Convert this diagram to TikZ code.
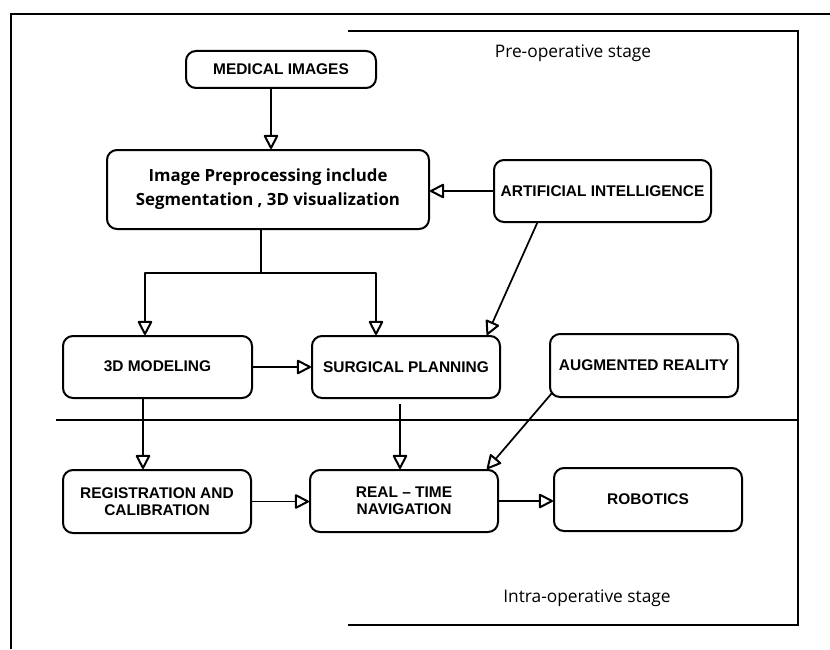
\documentclass[tikz,border=0pt]{standalone}
\usepackage{fontspec}
\setmainfont{Liberation Sans}
\newfontfamily\opensans{Open Sans}
\usetikzlibrary{arrows.meta,calc}
\begin{document}
\begin{tikzpicture}[x=0.75pt,y=-0.75pt,
  box/.style={draw,line width=1.5pt,rounded corners=7.5pt,align=center,inner sep=0pt,
    font=\fontsize{11.6}{13}\selectfont\bfseries},
  conn/.style={line width=1.3pt,line join=round},
  arr/.style={conn,-{Triangle[open,round,length=11.5pt,width=11.5pt,line width=1.5pt]}},
  frame/.style={line width=1.5pt},
  stage/.style={font=\opensans\fontsize{13}{15}\selectfont,inner sep=0pt}]
\useasboundingbox (0,0) rectangle (830,649);
% frames
\draw[frame] (830,14) -- (11,14) -- (11,649);
\draw[frame] (348,31) -- (798,31) -- (798,625) -- (348,625);
\draw[frame] (56,420) -- (798,420);
\node[stage] (pre-stage) at (573,53) {Pre-operative stage};
\node[stage] (intra-stage) at (587,598) {Intra-operative stage};
% nodes
\node[box,minimum width=142.5pt,minimum height=27.75pt] (mi) at (281,69.5) {MEDICAL IMAGES};
\node[box,minimum width=241.5pt,minimum height=59.25pt,
  font=\opensans\fontsize{12.6}{18}\selectfont\bfseries] (pre) at (268,189.5)
  {Image Preprocessing include\\Segmentation , 3D visualization};
\node[box,minimum width=162.75pt,minimum height=46.5pt] (ai) at (602.5,191) {ARTIFICIAL INTELLIGENCE};
\node[box,minimum width=141.75pt,minimum height=46.5pt] (mod) at (157.5,367) {\raisebox{2pt}{3D MODELING}};
\node[box,minimum width=141pt,minimum height=46.5pt] (sp) at (406,367) {SURGICAL PLANNING};
\node[box,minimum width=141pt,minimum height=47.25pt] (ar) at (644,365.5) {AUGMENTED REALITY};
\node[box,minimum width=141pt,minimum height=47.25pt] (reg) at (157,501.5) {REGISTRATION AND\\CALIBRATION};
\node[box,minimum width=141pt,minimum height=46.5pt] (rt) at (404,501) {REAL -- TIME\\NAVIGATION};
\node[box,minimum width=141pt,minimum height=47.25pt] (rob) at (648,499.5) {ROBOTICS};
% connectors
\coordinate (j) at (261,273);
\draw[arr] ([xshift=-7.5pt]mi.south) -- ([xshift=-7.5pt]mi.south |- pre.north);
\draw[conn] (pre.south -| j) -- (j);
\draw[arr] (j) -| ([xshift=-9.4pt]mod.north);
\draw[arr] (j) -| ([xshift=-22.5pt]sp.north);
\draw[arr] (ai.west) -- (ai.west -| pre.east);
\draw[arr] ([xshift=-49pt]ai.south) -- ([xshift=60.75pt]sp.north);
\draw[arr] (mod.east) -- (mod.east -| sp.west);
\draw[arr] ([xshift=-10.9pt]mod.south) -- ([xshift=-10.9pt]mod.south |- reg.north);
\draw[arr] ([xshift=-4.5pt,yshift=-3.75pt]sp.south) -- ([xshift=-4.5pt]sp.south |- rt.north);
\draw[arr] ([xshift=2.25pt,yshift=3.75pt]ar.south west) -- ([xshift=62.25pt]rt.north);
\draw[arr] (reg.east) -- (reg.east -| rt.west);
\draw[arr] (rt.east) -- (rt.east -| rob.west);
\end{tikzpicture}
\end{document}
